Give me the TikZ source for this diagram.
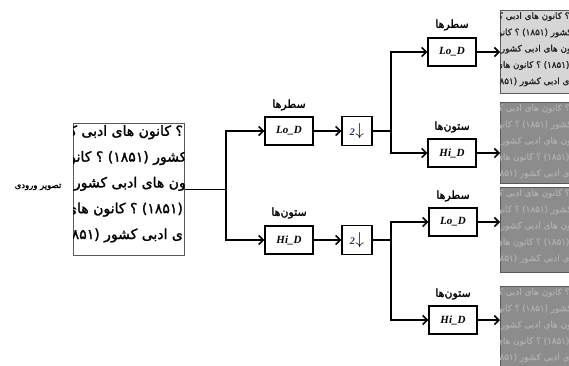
\documentclass[tikz,border=0pt]{standalone}
\usepackage{fontspec}
\setmainfont{Liberation Serif}
\newfontfamily\fa[Script=Arabic]{DejaVu Sans}
\newfontfamily\fab[Script=Arabic,FakeBold=1.6]{DejaVu Sans}
\usetikzlibrary{arrows.meta}
\TeXXeTstate=1
\definecolor{lightimg}{HTML}{D6D6D6}
\definecolor{midimg}{HTML}{8C8C8C}
\definecolor{texlight}{HTML}{ADADAD}
\definecolor{navytwo}{HTML}{1F2A5A}
\newcommand{\falines}{\beginR ؟ کانون های ادبی ک\endR\\
\beginR کشور (۱۸۵۱) ؟ کانون\endR\kern-0.25em\\
\beginR کانون های ادبی کشور\endR\kern-1.3em\\
\beginR (۱۸۵۱) ؟ کانون های\endR\\
\beginR ی ادبی کشور (۱۸۵۱)\endR}
\newcommand{\dsym}{{\color{navytwo}\bfseries\itshape 2}\hspace{0.5pt}{\fontsize{16}{16}\selectfont$\downarrow$}}
\begin{document}
\begin{tikzpicture}[x=1pt,y=-1pt,
  conn/.style={line width=1.6pt, draw=black},
  arr/.style={conn, -{Straight Barb[length=4.5pt,width=9pt,line width=1.6pt]}},
  filt/.style={draw, line width=1.4pt, minimum width=48pt, minimum height=28pt, inner sep=0,
    font=\bfseries\itshape\fontsize{11}{13}\selectfont},
  dsbox/.style={draw, line width=1.4pt, minimum width=30pt, minimum height=29pt, inner sep=0},
  lab/.style={font=\fab\fontsize{11}{12}\selectfont, inner sep=0},
  img/.style={draw=black!65, line width=0.6pt, inner sep=0, anchor=north west},
  bigtext/.style={anchor=north east, align=right, inner sep=0, font=\fab\fontsize{14}{25.8}\selectfont},
  smalltext/.style={anchor=north east, align=right, inner sep=0, font=\fab\fontsize{8.8}{16.3}\selectfont},
]
\useasboundingbox (0,0) rectangle (569,365);

% input image
\node[img, fill=white, minimum width=111pt, minimum height=132pt] (in) at (73,123) {};
\begin{scope}
  \clip (in.north west) rectangle (in.south east);
  \node[bigtext] (intext) at ([xshift=-1.5pt,yshift=-2pt]in.north east) {\falines};
\end{scope}
\node[lab, font=\fab\fontsize{8.5}{10}\selectfont] (inlab) at (38,187) {\beginR تصویر ورودی\endR};

% first stage
\node[filt] (lo1) at (289,131) {Lo\_D};
\node[filt] (hi1) at (289,240) {Hi\_D};
\node[lab] (lo1lab) at (289,105) {\beginR سطرها\endR};
\node[lab] (hi1lab) at (289,213) {\beginR ستون‌ها\endR};
\node[dsbox] (ds1) at (357,131) {\dsym};
\node[dsbox] (ds2) at (357,240) {\dsym};

% second stage
\node[filt] (lo2) at (452,52) {Lo\_D};
\node[filt] (hi2) at (452,153) {Hi\_D};
\node[filt] (lo3) at (453,222) {Lo\_D};
\node[filt] (hi3) at (453,320) {Hi\_D};
\node[lab] (lo2lab) at (452,25) {\beginR سطرها\endR};
\node[lab] (hi2lab) at (452,127) {\beginR ستون‌ها\endR};
\node[lab] (lo3lab) at (453,196) {\beginR سطرها\endR};
\node[lab] (hi3lab) at (453,294) {\beginR ستون‌ها\endR};

% output images (right part runs off the picture, as in the reference)
\node[img, fill=lightimg, minimum width=70pt, minimum height=83pt] (o1) at (500,10) {};
\node[img, fill=midimg, minimum width=70pt, minimum height=81pt] (o2) at (500,102) {};
\node[img, fill=midimg, minimum width=70pt, minimum height=85pt] (o3) at (500,187) {};
\node[img, fill=midimg, minimum width=70pt, minimum height=84pt] (o4) at (500,286) {};
\begin{scope}
  \clip (o1.north west) rectangle (o1.south east);
  \node[smalltext, text=black!85] (o1text) at ([xshift=-1pt,yshift=-2pt]o1.north east) {\falines};
\end{scope}
\begin{scope}
  \clip (o2.north west) rectangle (o2.south east);
  \node[smalltext, text=texlight] (o2text) at ([xshift=-1pt,yshift=-2pt]o2.north east) {\falines};
\end{scope}
\begin{scope}
  \clip (o3.north west) rectangle (o3.south east);
  \node[smalltext, text=texlight] (o3text) at ([xshift=-1pt,yshift=-2pt]o3.north east) {\falines};
\end{scope}
\begin{scope}
  \clip (o4.north west) rectangle (o4.south east);
  \node[smalltext, text=texlight] (o4text) at ([xshift=-1pt,yshift=-2pt]o4.north east) {\falines};
\end{scope}

% connectors
\coordinate (j1) at (226,0);
\coordinate (j2) at (391,0);
\draw[conn] (in.east) -- (in.east -| j1);
\draw[arr] (in.east -| j1) |- (lo1.west);
\draw[arr] (in.east -| j1) |- (hi1.west);
\draw[arr] (lo1.east) -- (ds1.west);
\draw[arr] (hi1.east) -- (ds2.west);
\draw[conn] (ds1.east) -- (ds1.east -| j2);
\draw[arr] (ds1.east -| j2) |- (lo2.west);
\draw[arr] (ds1.east -| j2) |- (hi2.west);
\draw[conn] (ds2.east) -- (ds2.east -| j2);
\draw[arr] (ds2.east -| j2) |- (lo3.west);
\draw[arr] (ds2.east -| j2) |- (hi3.west);
\draw[arr] (lo2.east) -- (lo2.east -| o1.west);
\draw[arr] (hi2.east) -- (hi2.east -| o2.west);
\draw[arr] (lo3.east) -- (lo3.east -| o3.west);
\draw[arr] (hi3.east) -- (hi3.east -| o4.west);
\end{tikzpicture}
\end{document}
